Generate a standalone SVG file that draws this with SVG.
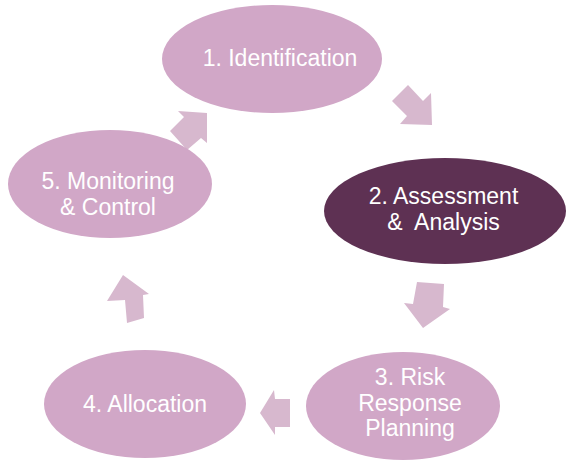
<svg xmlns="http://www.w3.org/2000/svg" width="571" height="465" viewBox="0 0 571 465">
<style>
.n{fill:#D1A7C7}
.d{fill:#5E3153}
.a{fill:#D7B8CE}
text{font-family:"Liberation Sans",Arial,sans-serif;font-size:23px;fill:#fff;text-anchor:middle}
</style>
<rect width="571" height="465" fill="#fff"/>
<g id="connectors">
<polygon class="a" points="408,85 392,101 407,116 400,124 432,125 431,93 423,101"/>
<polygon class="a" points="417,282 444,284 443,307 450,309 423,328 404,303 413,304"/>
<polygon class="a" points="290,399 290,427 275,427 275,435 260,413 274,390 275,399"/>
<polygon class="a" points="123,275 149,294 143,295 144,318 127,323 125,300 107,301"/>
<polygon class="a" points="207,113 178,111 184,117 170,131 187,150 201,138 207,143"/>
</g>
<g id="n1"><ellipse class="n" cx="272" cy="59" rx="110" ry="54"/><text x="280" y="66">1. Identification</text></g>
<g id="n2"><ellipse class="d" cx="445" cy="211" rx="121" ry="53"/><text x="443.5" y="204">2. Assessment</text><text x="443.5" y="230" xml:space="preserve">&amp;  Analysis</text></g>
<g id="n3"><ellipse class="n" cx="403" cy="406" rx="97" ry="54"/><text x="410" y="385">3. Risk</text><text x="410" y="411">Response</text><text x="410" y="436">Planning</text></g>
<g id="n4"><ellipse class="n" cx="145" cy="404" rx="101" ry="54"/><text x="145" y="412">4. Allocation</text></g>
<g id="n5"><ellipse class="n" cx="110" cy="184" rx="102" ry="54"/><text x="108" y="189">5. Monitoring</text><text x="108" y="215">&amp; Control</text></g>
</svg>
